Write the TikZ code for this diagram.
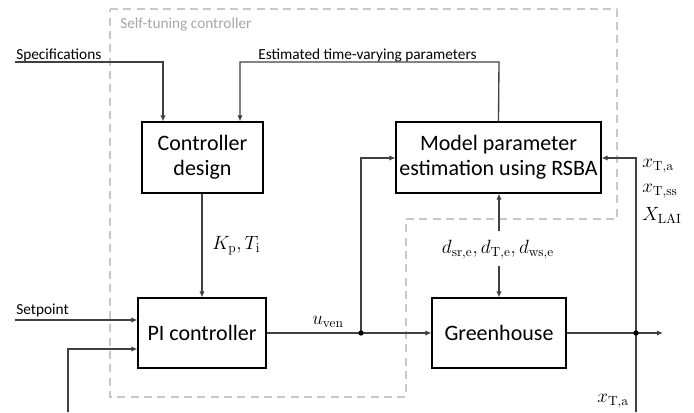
\documentclass[tikz,border=0pt]{standalone}
\usepackage[no-math]{fontspec}
\setmainfont{Carlito}
\usetikzlibrary{arrows.meta}
\definecolor{ln}{HTML}{404040}
\definecolor{dsh}{HTML}{C8C8C8}
\definecolor{ttl}{HTML}{A6A6A6}
\tikzset{
  blk/.style={draw=black, line width=0.8pt, minimum width=#1, align=center, font=\fontsize{16.5}{19}\selectfont, inner sep=0pt},
  wire/.style={draw=ln, line width=1pt},
  arr/.style={wire, -{Latex[length=4.5pt,width=4pt]}},
  lbl/.style={font=\fontsize{11.5}{13}\selectfont, inner sep=0pt},
  mlbl/.style={font=\fontsize{14.5}{16}\selectfont, inner sep=0pt},
  dot/.style={circle, fill=black, inner sep=0pt, minimum size=4pt}
}
\begin{document}
\begin{tikzpicture}[x=0.75pt,y=-0.75pt]
\useasboundingbox (0,0) rectangle (694,412);
% dashed boundary
\draw[dsh, line width=0.9pt, dash pattern=on 6pt off 4pt]
  (110,9) -- (617,9) -- (617,219) -- (406,219) -- (406,397) -- (110,397) -- cycle;
\node[anchor=base west, text=ttl, lbl] (title) at (120,28) {Self-tuning controller};
% blocks
\node[blk=121pt*0.75, minimum height=71pt*0.75] (cd) at (202.5,157.5) {Controller\\design};
\node[blk=205pt*0.75, minimum height=71pt*0.75] (mp) at (498.5,157.5) {Model parameter\\estimation using RSBA};
\node[blk=128pt*0.75, minimum height=70pt*0.75] (pi) at (202,333) {PI controller};
\node[blk=134pt*0.75, minimum height=70pt*0.75] (gh) at (499,333) {Greenhouse};
% coordinates
\coordinate (spS) at (15,62);
\coordinate (spC) at (163,62);
\coordinate (esC) at (240,62);
\coordinate (esR) at (499,62);
\coordinate (stS) at (15,320);
\coordinate (fbS) at (68,412);
\coordinate (fbC) at (68,349);
\coordinate (jn) at (361,333);
\coordinate (jnU) at (361,158);
\coordinate (out) at (663,333);
\coordinate (jr) at (636,333);
\coordinate (rB) at (636,412);
\coordinate (rU) at (636,158);
\coordinate (dA) at (499,231);
\coordinate (dB) at (499,266);
% texts
\node[lbl, anchor=base west] (spt) at (16,59) {Specifications};
\node[lbl, anchor=base west] (est) at (258,59) {Estimated time-varying parameters};
\node[lbl, anchor=base west] (stt) at (16,314) {Setpoint};
\node[mlbl, anchor=west] (kp) at (212,246) {$K_{\mathrm{p}}, T_{\mathrm{i}}$};
\node[mlbl, anchor=west] (uv) at (312,322) {$u_{\mathrm{ven}}$};
\node[mlbl] (dl) at (498,250) {$d_{\mathrm{sr,e}}, d_{\mathrm{T,e}}, d_{\mathrm{ws,e}}$};
\node[mlbl, anchor=west] (l1) at (642,166) {$x_{\mathrm{T,a}}$};
\node[mlbl, anchor=west] (l2) at (642,191) {$x_{\mathrm{T,ss}}$};
\node[mlbl, anchor=west] (l3) at (642,215) {$X_{\mathrm{LAI}}$};
\node[mlbl, anchor=east] (l4) at (629,401) {$x_{\mathrm{T,a}}$};
% wires
\draw[arr] (spS) -- (spC) -- (spC |- cd.north);
\draw[arr] (mp.north) -- (esR) -- (esC) -- (esC |- cd.north);
\draw[arr] (cd.south -| pi.north) -- (pi.north);
\draw[arr] (stS) -- (stS -| pi.west);
\draw[arr] (fbS) -- (fbC) -- (fbC -| pi.west);
\draw[wire] (pi.east |- jn) -- (jn);
\draw[arr] (jn) -- (gh.west);
\draw[arr] (jn) -- (jnU) -- (jnU -| mp.west);
\draw[arr] (gh.east) -- (out);
\draw[arr] (rB) -- (rU) -- (rU -| mp.east);
\draw[arr] (dA) -- (dA |- mp.south);
\draw[arr] (dB) -- (dB |- gh.north);
\node[dot] (d1) at (jn) {};
\node[dot] (d2) at (jr) {};
\end{tikzpicture}
\end{document}
